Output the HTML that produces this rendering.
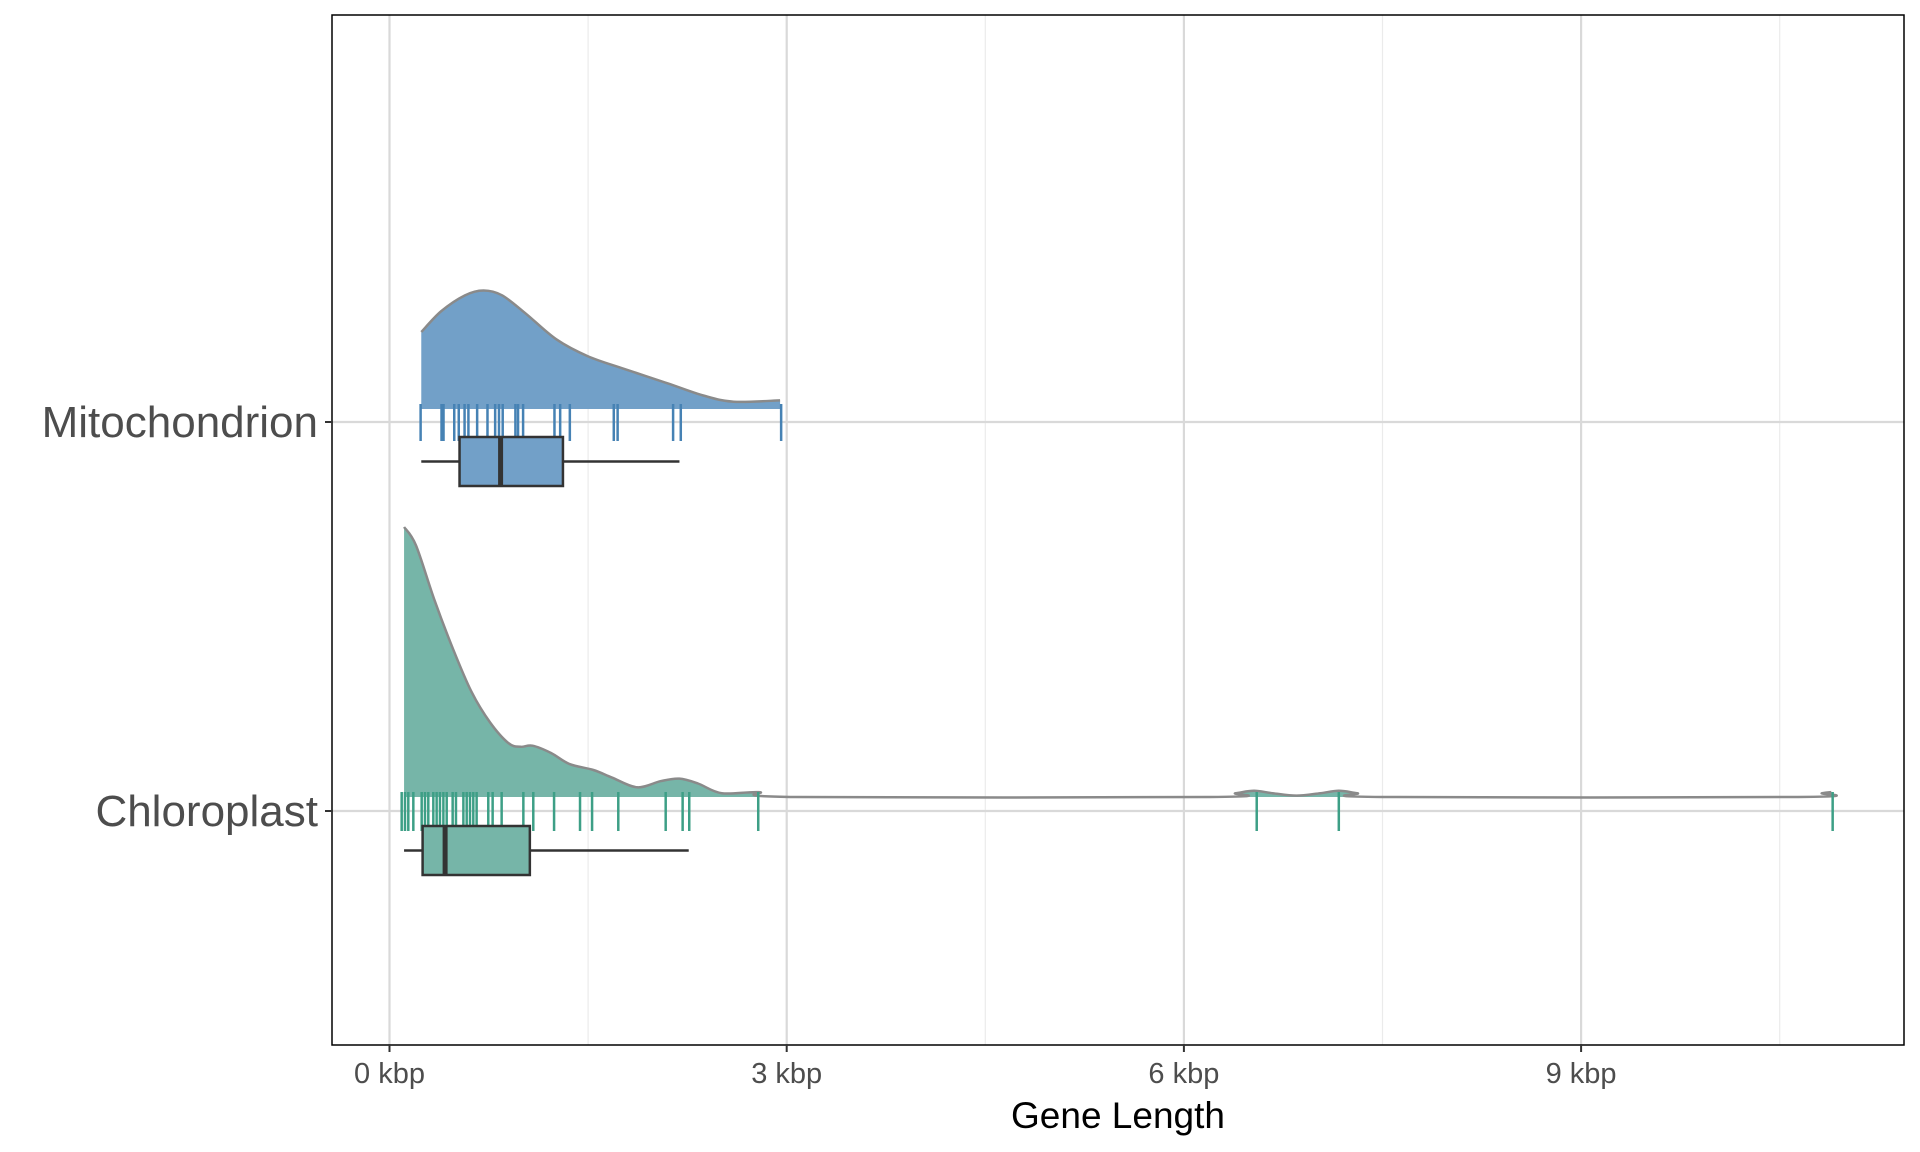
<!DOCTYPE html>
<html><head><meta charset="utf-8"><style>
body{margin:0;background:#fff}
svg{display:block;font-family:"Liberation Sans",sans-serif}
</style></head><body>
<svg id="chart" width="1920" height="1152" viewBox="0 0 1920 1152">
<rect x="332" y="15" width="1572" height="1030" fill="#fff"/>
<g id="grid"></g>
<g id="marks"></g>
<rect x="332" y="15" width="1572" height="1030" fill="none" stroke="#000" stroke-width="1.5"/>
<g id="axes"></g>
<text x="1118" y="1128" font-size="37" text-anchor="middle" fill="#000">Gene Length</text>
</svg>
<script>
const categories = ["Mitochondrion", "Chloroplast"];
const xTicks = [0, 3, 6, 9];
const xTickLabels = ["0 kbp", "3 kbp", "6 kbp", "9 kbp"];
const xMinor = [1.5, 4.5, 7.5, 10.5];
const mitoDensX = [0.24,0.39,0.57,0.71,0.85,1.03,1.26,1.50,1.77,2.10,2.37,2.60,2.95];
const mitoDensY = [0.285,0.362,0.421,0.439,0.421,0.353,0.258,0.195,0.149,0.095,0.050,0.027,0.032];
const chloroDensX = [0.11,0.20,0.34,0.48,0.62,0.76,0.90,0.99,1.08,1.22,1.36,1.54,1.68,1.87,2.05,2.19,2.33,2.51,2.79,3.07,6.20,6.39,6.53,6.67,6.85,7.03,7.17,7.31,7.50,10.64,10.82,10.89];
const chloroDensY = [1.0,0.932,0.729,0.548,0.389,0.276,0.199,0.186,0.190,0.163,0.122,0.1,0.072,0.036,0.059,0.068,0.05,0.014,0.018,0,0,0.014,0.023,0.014,0.005,0.014,0.023,0.014,0,0,0.014,0.018];
const mitoRug = [0.235,0.393,0.408,0.489,0.523,0.567,0.596,0.662,0.740,0.798,0.827,0.855,0.951,0.971,1.009,1.246,1.289,1.362,1.694,1.723,2.142,2.200,2.958];
const chloroRug = [0.092,0.117,0.142,0.18,0.243,0.268,0.293,0.331,0.356,0.381,0.407,0.432,0.477,0.502,0.558,0.583,0.608,0.633,0.658,0.746,0.779,0.847,1.011,1.086,1.243,1.439,1.530,1.728,2.086,2.214,2.264,2.785,6.55,7.17,10.9];
const mitoBox = [0.24, 0.529, 0.839, 1.31, 2.19];
const chloroBox = [0.11, 0.25, 0.42, 1.06, 2.26];

const NS = "http://www.w3.org/2000/svg";
const xs = k => 389.5 + k * 132.4;
const catY = [422, 811];
const base = [409, 797];
const dens = d => d * 270;
function mk(tag, attrs, parent) {
  const e = document.createElementNS(NS, tag);
  for (const k in attrs) e.setAttribute(k, attrs[k]);
  parent.appendChild(e);
  return e;
}
const grid = document.getElementById('grid');
const marks = document.getElementById('marks');
const axes = document.getElementById('axes');
xMinor.forEach(v => {
  const l = mk('line', {x1: xs(v), x2: xs(v), y1: 15, y2: 1045, stroke: '#ebebeb', 'stroke-width': 1.2}, grid);
  
  
});
xTicks.forEach(v => {
  const l = mk('line', {x1: xs(v), x2: xs(v), y1: 15, y2: 1045, stroke: '#d9d9d9', 'stroke-width': 2.2}, grid);
  
  
});
catY.forEach(y => {
  const l = mk('line', {x1: 332, x2: 1904, y1: y, y2: y, stroke: '#d9d9d9', 'stroke-width': 2.2}, grid);
  
  
});
function smooth(pts) {
  let d = 'M' + pts[0][0] + ',' + pts[0][1];
  for (let i = 0; i < pts.length - 1; i++) {
    const p0 = pts[Math.max(i - 1, 0)], p1 = pts[i], p2 = pts[i + 1], p3 = pts[Math.min(i + 2, pts.length - 1)];
    const c1 = [p1[0] + (p2[0] - p0[0]) / 6, p1[1] + (p2[1] - p0[1]) / 6];
    const c2 = [p2[0] - (p3[0] - p1[0]) / 6, p2[1] - (p3[1] - p1[1]) / 6];
    d += ' C' + c1[0] + ',' + c1[1] + ' ' + c2[0] + ',' + c2[1] + ' ' + p2[0] + ',' + p2[1];
  }
  return d;
}
const series = [
  {name: 'mitochondrion', dx: mitoDensX, dy: mitoDensY, rug: mitoRug, box: mitoBox, fill: '#72a0c8', rugc: '#4682b4', rugY: [404, 441], boxY: [437, 486]},
  {name: 'chloroplast', dx: chloroDensX, dy: chloroDensY, rug: chloroRug, box: chloroBox, fill: '#76b5a8', rugc: '#3d9f86', rugY: [792, 831], boxY: [826, 875]}
];
series.forEach((s, i) => {
  const b = base[i];
  const pts = s.dx.map((x, j) => [xs(x), b - dens(s.dy[j])]);
  const line = smooth(pts);
  const area = mk('path', {d: line + ' L' + xs(s.dx[s.dx.length - 1]) + ',' + b + ' L' + xs(s.dx[0]) + ',' + b + ' Z', fill: s.fill, stroke: 'none'}, marks);
  
  
  const ol = mk('path', {d: line, fill: 'none', stroke: '#8a8a8a', 'stroke-width': 2.5}, marks);
  
  
  s.rug.forEach(v => {
    const r = mk('line', {x1: xs(v), x2: xs(v), y1: s.rugY[0], y2: s.rugY[1], stroke: s.rugc, 'stroke-width': 2.5}, marks);
    
    
  });
  const bx = s.box, my = (s.boxY[0] + s.boxY[1]) / 2;
  const w = mk('line', {x1: xs(bx[0]), x2: xs(bx[4]), y1: my, y2: my, stroke: '#333', 'stroke-width': 2.5}, marks);
  
  
  const r = mk('rect', {x: xs(bx[1]), y: s.boxY[0], width: xs(bx[3]) - xs(bx[1]), height: s.boxY[1] - s.boxY[0], fill: s.fill, stroke: '#333', 'stroke-width': 2.5}, marks);
  
  
  const m = mk('line', {x1: xs(bx[2]), x2: xs(bx[2]), y1: s.boxY[0], y2: s.boxY[1], stroke: '#333', 'stroke-width': 5}, marks);
  
  
});
xTicks.forEach((v, i) => {
  const t = mk('line', {x1: xs(v), x2: xs(v), y1: 1045, y2: 1052, stroke: '#333', 'stroke-width': 2}, axes);
  
  
  const l = mk('text', {x: xs(v), y: 1083, 'font-size': 29, 'text-anchor': 'middle', fill: '#4d4d4d'}, axes);
  l.textContent = xTickLabels[i];
  
  
});
categories.forEach((c, i) => {
  const t = mk('line', {x1: 325, x2: 332, y1: catY[i], y2: catY[i], stroke: '#333', 'stroke-width': 2}, axes);
  
  
  const l = mk('text', {x: 318, y: catY[i] + 15, 'font-size': 44, 'text-anchor': 'end', fill: '#4d4d4d'}, axes);
  l.textContent = c;
  
  
});
</script>
</body></html>
